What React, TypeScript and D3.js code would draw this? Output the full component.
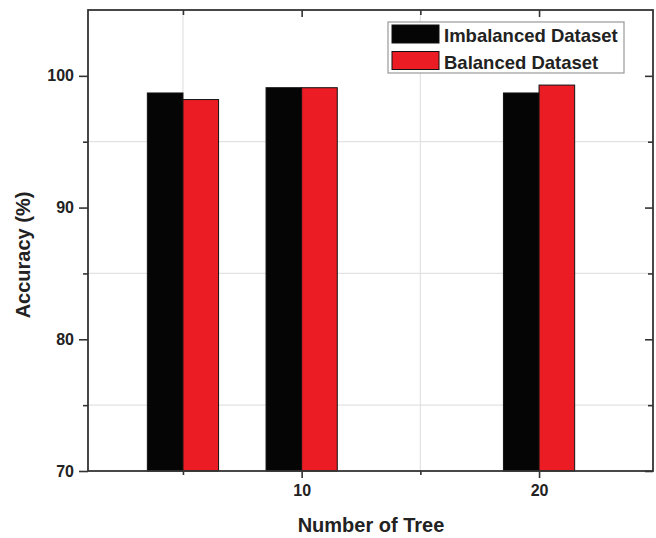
import React, { useEffect, useRef } from 'react';
import * as d3 from 'd3';

// tree counts on the x axis
const treeCounts = [5, 10, 20];
const imbalancedAcc = [98.7, 99.1, 98.7];
const balancedAcc = [98.2, 99.1, 99.3];
const seriesNames = ['Imbalanced Dataset', 'Balanced Dataset'];
const seriesColors = ['#050505', '#ec1c24'];
const xMajorTicks = [10, 20];
const xMinorTicks = [5, 15];
const yMajorTicks = [70, 80, 90, 100];
const yMinorTicks = [75, 85, 95];

const W = 656;
const H = 538;
const FONT = '"Liberation Sans", Arial, sans-serif';

export default function App() {
  const svgRef = useRef<SVGSVGElement>(null);

  useEffect(() => {
    if (!svgRef.current) return;
    d3.select(svgRef.current).selectAll('*').remove();

    const svg = d3.select(svgRef.current);
    const left = 88, right = 653, top = 10, bottom = 471;

    const x = d3.scaleLinear().domain([1, 24.8]).range([left, right]);
    const y = d3.scaleLinear().domain([70, 105]).range([bottom, top]);
    const barW = x(1.5) - x(0);

    svg.append('rect')
      .attr('width', W).attr('height', H).attr('fill', '#fff');

    // light grid on minor positions
    const grid = svg.append('g').attr('stroke', '#e2e2e2').attr('stroke-width', 1.2);
    grid.selectAll('.gx').data(xMinorTicks).enter().append('line')
      .attr('x1', d => x(d)).attr('x2', d => x(d))
      .attr('y1', top).attr('y2', bottom);
    grid.selectAll('.gy').data(yMinorTicks).enter().append('line')
      .attr('x1', left).attr('x2', right)
      .attr('y1', d => y(d)).attr('y2', d => y(d));

    // bars
    const series = [imbalancedAcc, balancedAcc];
    series.forEach((vals, s) => {
      svg.append('g').selectAll('rect')
        .data(vals)
        .enter().append('rect')
        .attr('x', (d, i) => x(treeCounts[i]) + (s === 0 ? -barW : 0))
        .attr('y', d => y(d))
        .attr('width', barW)
        .attr('height', d => y(70) - y(d))
        .attr('fill', seriesColors[s])
        .attr('stroke', '#111')
        .attr('stroke-width', 1);
    });

    const styleAxis = (g: any) => {
      g.select('.domain').remove();
      g.selectAll('line').attr('stroke', '#333').attr('stroke-width', 1.6);
      g.selectAll('text')
        .attr('fill', '#222')
        .style('font-family', FONT)
        .style('font-size', '16px')
        .style('font-weight', 'bold');
    };

    // bottom axis
    svg.append('g').attr('transform', `translate(0,${bottom})`)
      .call(d3.axisBottom(x).tickValues(xMajorTicks).tickSize(7).tickPadding(7).tickFormat(d3.format('d')))
      .call(styleAxis);
    svg.append('g').attr('transform', `translate(0,${bottom})`)
      .call(d3.axisBottom(x).tickValues(xMinorTicks).tickSize(4).tickFormat(() => ''))
      .call(styleAxis);
    // top axis, inward ticks
    svg.append('g').attr('transform', `translate(0,${top})`)
      .call(d3.axisTop(x).tickValues(xMajorTicks).tickSize(-7).tickFormat(() => ''))
      .call(styleAxis);
    svg.append('g').attr('transform', `translate(0,${top})`)
      .call(d3.axisTop(x).tickValues(xMinorTicks).tickSize(-5).tickFormat(() => ''))
      .call(styleAxis);
    // left axis
    svg.append('g').attr('transform', `translate(${left},0)`)
      .call(d3.axisLeft(y).tickValues(yMajorTicks).tickSize(9).tickPadding(5).tickFormat(d3.format('d')))
      .call(styleAxis);
    svg.append('g').attr('transform', `translate(${left},0)`)
      .call(d3.axisLeft(y).tickValues(yMinorTicks).tickSize(5).tickFormat(() => ''))
      .call(styleAxis);
    // right axis, inward ticks
    svg.append('g').attr('transform', `translate(${right},0)`)
      .call(d3.axisRight(y).tickValues(yMajorTicks).tickSize(-8).tickFormat(() => ''))
      .call(styleAxis);
    svg.append('g').attr('transform', `translate(${right},0)`)
      .call(d3.axisRight(y).tickValues(yMinorTicks).tickSize(-5).tickFormat(() => ''))
      .call(styleAxis);

    // frame
    svg.append('rect')
      .attr('x', left).attr('y', top)
      .attr('width', right - left).attr('height', bottom - top)
      .attr('fill', 'none')
      .attr('stroke', '#333')
      .attr('stroke-width', 1.8);

    // axis titles
    svg.append('text')
      .attr('x', 371).attr('y', 532)
      .attr('text-anchor', 'middle')
      .attr('fill', '#222')
      .style('font-family', FONT)
      .style('font-size', '20px')
      .style('font-weight', 'bold')
      .text('Number of Tree');

    svg.append('text')
      .attr('transform', `translate(30,255) rotate(-90)`)
      .attr('text-anchor', 'middle')
      .attr('fill', '#222')
      .style('font-family', FONT)
      .style('font-size', '20px')
      .style('font-weight', 'bold')
      .text('Accuracy (%)');

    // legend
    const lg = svg.append('g');
    lg.append('rect')
      .attr('x', 388).attr('y', 22)
      .attr('width', 236).attr('height', 51)
      .attr('fill', '#fff')
      .attr('stroke', '#999')
      .attr('stroke-width', 1.2);
    seriesNames.forEach((name, i) => {
      lg.append('rect')
        .attr('x', 392).attr('y', 25 + i * 26.5)
        .attr('width', 47).attr('height', 18)
        .attr('fill', seriesColors[i])
        .attr('stroke', '#111')
        .attr('stroke-width', 1);
      lg.append('text')
        .attr('x', 444).attr('y', 42 + i * 26.5)
        .attr('fill', '#222')
        .style('font-family', FONT)
        .style('font-size', '18.5px')
        .style('font-weight', 'bold')
        .text(name);
    });
  }, []);

  return (
    <svg
      ref={svgRef}
      width={W}
      height={H}
      style={{ position: 'absolute', left: 0, top: 0, display: 'block' }}
    />
  );
}
